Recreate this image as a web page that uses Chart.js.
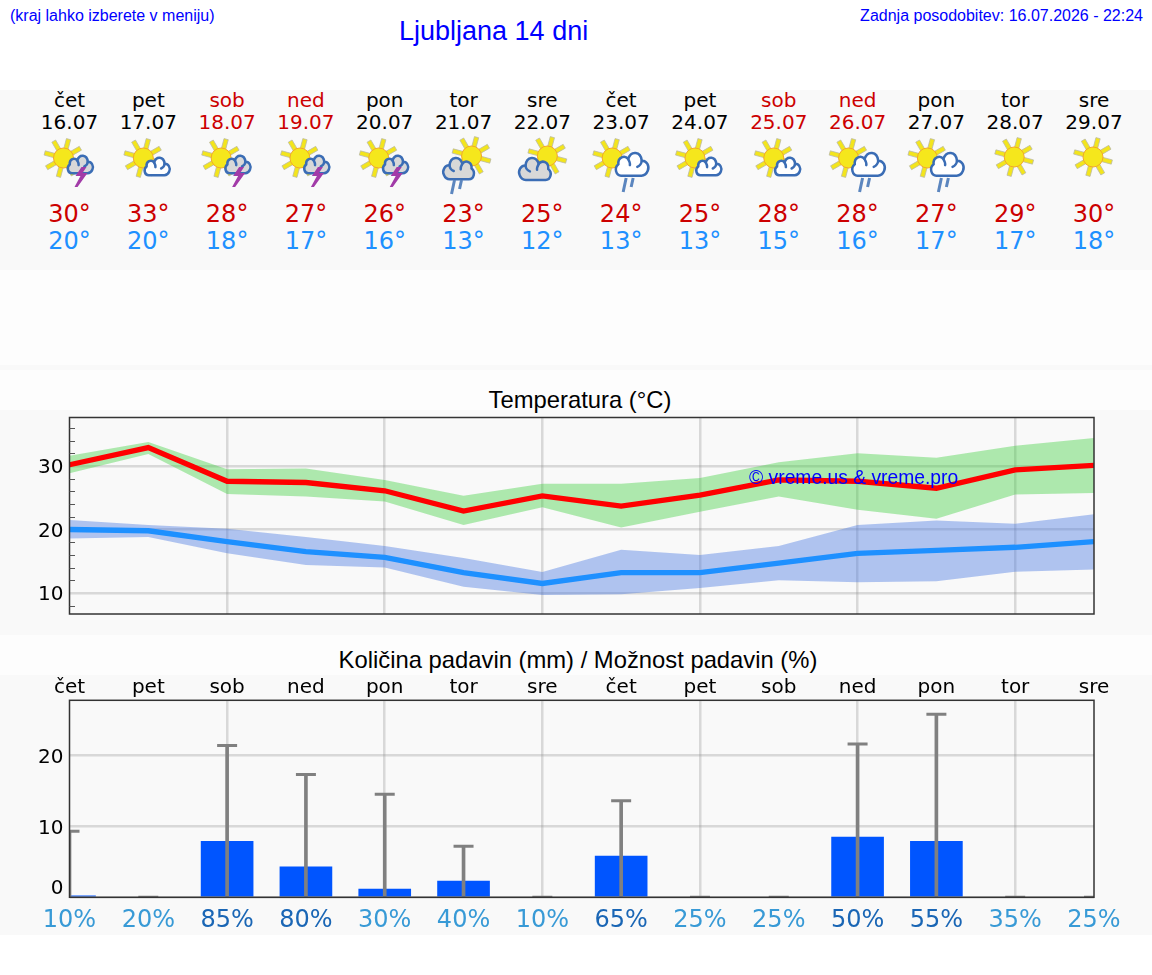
<!DOCTYPE html>
<html>
<head>
<meta charset="utf-8">
<script src="https://cdn.jsdelivr.net/npm/chart.js@4"></script>
<style>
  html, body { margin: 0; padding: 0; background: #fff; }
  #page { position: relative; width: 1152px; height: 975px; overflow: hidden; }
  #page > div, #page > canvas, #page > svg { position: absolute; }
  .band { left: 0; width: 1152px; background: #f9f9f9; }
  .soft { left: 0; width: 1152px; background: #fdfdfd; }
  .arial { font-family: "Liberation Sans", sans-serif; white-space: nowrap; }
  .cell { font-family: "DejaVu Sans", sans-serif; transform: translate(-50%, -50%); white-space: nowrap; line-height: 1; }
</style>
</head>
<body>
<div id="page">
  <div class="soft" style="top:270px;height:140px"></div>
  <div class="soft" style="top:635px;height:40px"></div>
  <div class="band" style="top:90px;height:180px"></div>
  <div class="band" style="top:365px;height:5px"></div>
  <div class="band" style="top:410px;height:225px"></div>
  <div class="band" style="top:675px;height:260px"></div>

  <div class="arial" style="left:10px;top:7px;font-size:16px;color:#0000ff">(kraj lahko izberete v meniju)</div>
  <div class="arial" style="left:399px;top:16px;font-size:27px;color:#0000ff">Ljubljana 14 dni</div>
  <div class="arial" style="right:9px;top:7px;font-size:16px;color:#0000ff">Zadnja posodobitev: 16.07.2026 - 22:24</div>

  <div class="arial" style="left:0;width:1160px;text-align:center;top:386px;font-size:23.8px;color:#000">Temperatura (°C)</div>
  <div class="arial" style="left:0;width:1156px;text-align:center;top:646px;font-size:23.8px;color:#000">Količina padavin (mm) / Možnost padavin (%)</div>

  <svg id="icons" width="1152" height="200" style="left:0;top:90px"></svg>
  <canvas id="chartTemp" width="1152" height="225" style="left:0;top:410px"></canvas>
  <canvas id="chartRain" width="1152" height="260" style="left:0;top:675px"></canvas>
  <div class="arial" style="left:749px;top:467px;font-size:19.3px;color:#0000ff">© vreme.us &amp; vreme.pro</div>
</div>

<script>
const days = ['čet', 'pet', 'sob', 'ned', 'pon', 'tor', 'sre', 'čet', 'pet', 'sob', 'ned', 'pon', 'tor', 'sre'];
const dates = ['16.07', '17.07', '18.07', '19.07', '20.07', '21.07', '22.07', '23.07', '24.07', '25.07', '26.07', '27.07', '28.07', '29.07'];
const icons = ['storm', 'cloud', 'storm', 'storm', 'storm', 'rainBehind', 'behind', 'rain', 'cloud', 'cloud', 'rain', 'rain', 'sun', 'sun'];

const tempMax = [30.2, 32.9, 27.6, 27.4, 26.1, 22.9, 25.3, 23.7, 25.4, 27.8, 27.6, 26.5, 29.4, 30.1];
const tempMaxHigh = [31.6, 33.8, 29.5, 29.6, 27.8, 25.3, 27.2, 27.2, 28.1, 30.6, 32, 31.3, 33.2, 34.4];
const tempMaxLow = [28.85, 31.9, 25.6, 25.2, 24.4, 20.7, 23.5, 20.3, 22.8, 25.2, 23.1, 21.7, 25.5, 25.75];
const tempMin = [20, 19.8, 18.1, 16.5, 15.6, 13.2, 11.5, 13.2, 13.2, 14.7, 16.25, 16.7, 17.2, 18.1];
const tempMinHigh = [21.5, 20.7, 20.1, 18.8, 17.4, 15.5, 13.3, 16.8, 16, 17.4, 20.7, 21.4, 20.9, 22.4];
const tempMinLow = [18.6, 18.8, 16.25, 14.4, 14, 11, 9.7, 9.8, 10.8, 12, 11.7, 11.85, 13.35, 13.7];
const tempTicks = [10, 20, 30];
const tempMinorTicks = [8, 12, 14, 16, 18, 22, 24, 26, 28, 32, 34, 36];

const rainAmount = [0.2, 0, 7.9, 4.3, 1.15, 2.3, 0, 5.8, 0, 0, 8.5, 7.9, 0, 0];
const rainHigh = [9.3, 0, 21.4, 17.3, 14.5, 7.2, 0, 13.6, 0, 0, 21.6, 25.8, 0, 0];
const rainChance = [10, 20, 85, 80, 30, 40, 10, 65, 25, 25, 50, 55, 35, 25];
const rainTicks = [0, 10, 20];

Chart.defaults.font.family = '"DejaVu Sans", sans-serif';
Chart.defaults.animation = false;

// axes box around the plot area
const framePlugin = {
  id: 'frame',
  afterDatasetsDraw(chart) {
    const a = chart.chartArea, ctx = chart.ctx;
    ctx.save();
    ctx.strokeStyle = '#333';
    ctx.lineWidth = 1.5;
    ctx.strokeRect(a.left, a.top, a.right - a.left, a.bottom - a.top);
    ctx.restore();
  }
};

// short inward marks for the in-between temperatures
const minorTickPlugin = {
  id: 'minorTicks',
  afterDatasetsDraw(chart) {
    const y = chart.scales.y, ctx = chart.ctx;
    ctx.save();
    ctx.strokeStyle = '#555';
    ctx.lineWidth = 1;
    tempMinorTicks.forEach(v => {
      const py = Math.round(y.getPixelForValue(v)) + 0.5;
      ctx.beginPath();
      ctx.moveTo(chart.chartArea.left, py);
      ctx.lineTo(chart.chartArea.left + 5.5, py);
      ctx.stroke();
    });
    ctx.restore();
  }
};

const gridGrey = 'rgba(128,128,128,0.27)';
const gridWidth = 2.5;
const everyOtherDay = ctx => (ctx.index % 2 === 0 && ctx.index > 0) ? gridGrey : 'transparent';

function band(data, color, fill) {
  return { type: 'line', data, borderWidth: 0, pointRadius: 0, backgroundColor: color, fill, clip: 0 };
}
function line(data, color) {
  return { type: 'line', data, borderColor: color, borderWidth: 5.3, pointRadius: 0, fill: false, clip: 0, borderJoinStyle: 'miter' };
}
// fixed gutter for the y axis; no extra room for its outermost labels
function fitY(s) {
  s.width = 69.5;
  s.paddingTop = 0;
  s.paddingBottom = 0;
}

new Chart(document.getElementById('chartTemp').getContext('2d'), {
  type: 'line',
  data: {
    labels: days,
    datasets: [
      line(tempMax, '#ff0000'),
      line(tempMin, '#1e90ff'),
      band(tempMaxHigh, 'rgba(50,205,50,0.38)', '+1'),
      band(tempMaxLow, 'transparent', false),
      band(tempMinHigh, 'rgba(65,115,225,0.4)', '+1'),
      band(tempMinLow, 'transparent', false)
    ]
  },
  options: {
    responsive: false,
    layout: { autoPadding: false, padding: { top: 7.5, right: 58, left: 0, bottom: 0 } },
    plugins: { legend: { display: false }, tooltip: { enabled: false }, title: { display: false } },
    scales: {
      x: {
        offset: false,
        grid: { color: everyOtherDay, lineWidth: gridWidth, drawTicks: false },
        border: { display: false },
        ticks: { display: false },
        afterFit: s => { s.height = 21; }
      },
      y: {
        min: 6.69,
        max: 37.64,
        afterBuildTicks: s => { s.ticks = tempTicks.map(value => ({ value })); },
        grid: { color: gridGrey, lineWidth: gridWidth, drawTicks: false },
        border: { display: false },
        ticks: { color: '#000', padding: 6, labelOffset: 2, font: { size: 20 } },
        afterFit: fitY
      }
    }
  },
  plugins: [framePlugin, minorTickPlugin]
});

new Chart(document.getElementById('chartRain').getContext('2d'), {
  type: 'bar',
  data: {
    labels: rainChance.map(v => v + '%'),
    datasets: [
      { type: 'line', data: rainHigh, showLine: false, pointStyle: 'line', pointRadius: 10, pointBorderWidth: 3, pointBorderColor: '#808080', clip: 0, order: 1 },
      { data: rainHigh.map(v => [0, v]), backgroundColor: '#808080', barThickness: 3, grouped: false, order: 2 },
      { data: rainAmount, backgroundColor: '#0055ff', barThickness: 52, grouped: false, order: 3 }
    ]
  },
  options: {
    responsive: false,
    layout: { autoPadding: false, padding: { top: 0, right: 58, left: 0, bottom: 0 } },
    plugins: { legend: { display: false }, tooltip: { enabled: false }, title: { display: false } },
    scales: {
      x: {
        offset: false,
        grid: { offset: false, color: everyOtherDay, lineWidth: gridWidth, drawTicks: false },
        border: { display: false },
        ticks: {
          autoSkip: false,
          maxRotation: 0,
          padding: 9,
          font: { size: 24 },
          color: ctx => rainChance[ctx.index] >= 50 ? '#1a66b5' : '#389ad6'
        },
        afterFit: s => { s.height = 37.7; }
      },
      xDays: {
        type: 'category',
        labels: days,
        position: 'top',
        offset: false,
        grid: { display: false, drawTicks: false },
        border: { display: false },
        ticks: { autoSkip: false, maxRotation: 0, padding: 1, color: '#000', font: { size: 20 } },
        afterFit: s => { s.height = 25.3; }
      },
      y: {
        min: 0,
        max: 27.75,
        afterBuildTicks: s => { s.ticks = rainTicks.map(value => ({ value })); },
        grid: { color: gridGrey, lineWidth: gridWidth, drawTicks: false },
        border: { display: false },
        ticks: {
          color: '#000',
          padding: 6,
          labelOffset: 2,
          font: { size: 20, lineHeight: 1.1 },
          // the zero label sits above the axis line
          callback: v => v === 0 ? ['0', ''] : String(v)
        },
        afterFit: fitY
      }
    }
  },
  plugins: [framePlugin]
});

// top strip: one column per day, centred on the same x positions as the plots
const page = document.getElementById('page');
const colX = i => 69.5 + i * 1024.5 / 13;
function cell(text, x, y, size, color) {
  const d = document.createElement('div');
  d.className = 'cell';
  d.textContent = text;
  d.style.cssText = `left:${x}px;top:${y}px;font-size:${size}px;color:${color}`;
  page.appendChild(d);
}
days.forEach((d, i) => {
  const weekend = d === 'sob' || d === 'ned';
  cell(d, colX(i), 100, 20, weekend ? '#cc0000' : '#000');
  cell(dates[i], colX(i), 122, 20, weekend ? '#cc0000' : '#000');
  cell(Math.round(tempMax[i]) + '°', colX(i), 213.5, 24, '#cc0000');
  cell(Math.round(tempMin[i]) + '°', colX(i), 240.5, 24, '#1e90ff');
});

function sunSvg(cx, cy) {
  let s = '';
  [75, 30, -15, -60, -105, -150, 165, 120].forEach(a => {
    s += `<rect x="9" y="-2.2" width="10.5" height="4.4" fill="#f3e51f" stroke="#b9b9a8" stroke-width="0.7" transform="translate(${cx} ${cy}) rotate(${-a})"/>`;
  });
  s += `<circle cx="${cx}" cy="${cy}" r="10" fill="#f5e71a" stroke="#f2a72a" stroke-width="1"/>`;
  return s;
}
// x, y are the left and top of the cloud outline, w its width
function cloudSvg(x, y, w, fill, flip) {
  const k = w / 100, ky = k * 1.25;
  const oy = y - 8 * ky;
  const tf = flip ? `translate(${x + w} ${oy}) scale(${-k} ${ky})` : `translate(${x} ${oy}) scale(${k} ${ky})`;
  return `<g transform="${tf}" fill="none" stroke="#3a6db5" stroke-width="2.5" stroke-linecap="round">` +
    `<path vector-effect="non-scaling-stroke" fill="${fill}" d="M20 62C5 62 -1 44 12 36C10 20 30 14 40 24C48 4 76 6 79 28C93 27 102 41 96 51C92 59 85 62 78 62Z"/>` +
    `<path vector-effect="non-scaling-stroke" d="M40 24C44 30 46 34 45 38M79 28C78 36 72 40 66 42"/></g>`;
}
function rainSvg(x, y) {
  return `<path d="M${x + 3} ${y}L${x} ${y + 14}M${x + 10} ${y}L${x + 8} ${y + 9}" stroke="#5b86bf" stroke-width="3" fill="none"/>`;
}
function boltSvg(x, y) {
  return `<path d="M${x + 1} ${y}L${x - 5} ${y + 9}L${x} ${y + 9}L${x - 6} ${y + 20}L${x - 3} ${y + 20}L${x + 7} ${y + 6}L${x + 2} ${y + 6}L${x + 6} ${y}Z" fill="#a23ba8"/>`;
}
// icon artwork keyed by the forecast type; coordinates are relative to the column centre
function iconSvg(kind, x) {
  const cy = 68;
  switch (kind) {
    case 'sun': return sunSvg(x - 1, cy - 1);
    case 'cloud': return sunSvg(x - 5, cy) + cloudSvg(x - 5, cy - 1, 27, '#fff', false);
    case 'storm': return sunSvg(x - 6, cy) + cloudSvg(x - 3, cy - 3, 27, '#d8d8d8', false) + boltSvg(x + 11, cy + 9);
    case 'rain': return sunSvg(x - 9, cy) + cloudSvg(x - 7, cy - 6, 35, '#fff', false) + rainSvg(x + 2, cy + 20);
    case 'behind': return sunSvg(x + 5, cy - 2) + cloudSvg(x - 24, cy - 1, 34, '#d8d8d8', true);
    case 'rainBehind': return sunSvg(x + 8, cy - 2) + cloudSvg(x - 21, cy - 1, 33, '#d8d8d8', true) + rainSvg(x - 12, cy + 22);
  }
}
document.getElementById('icons').innerHTML =
  '<defs><filter id="soft"><feGaussianBlur stdDeviation="0.35"/></filter></defs><g filter="url(#soft)">' +
  icons.map((k, i) => iconSvg(k, colX(i))).join('') + '</g>';
</script>
</body>
</html>
